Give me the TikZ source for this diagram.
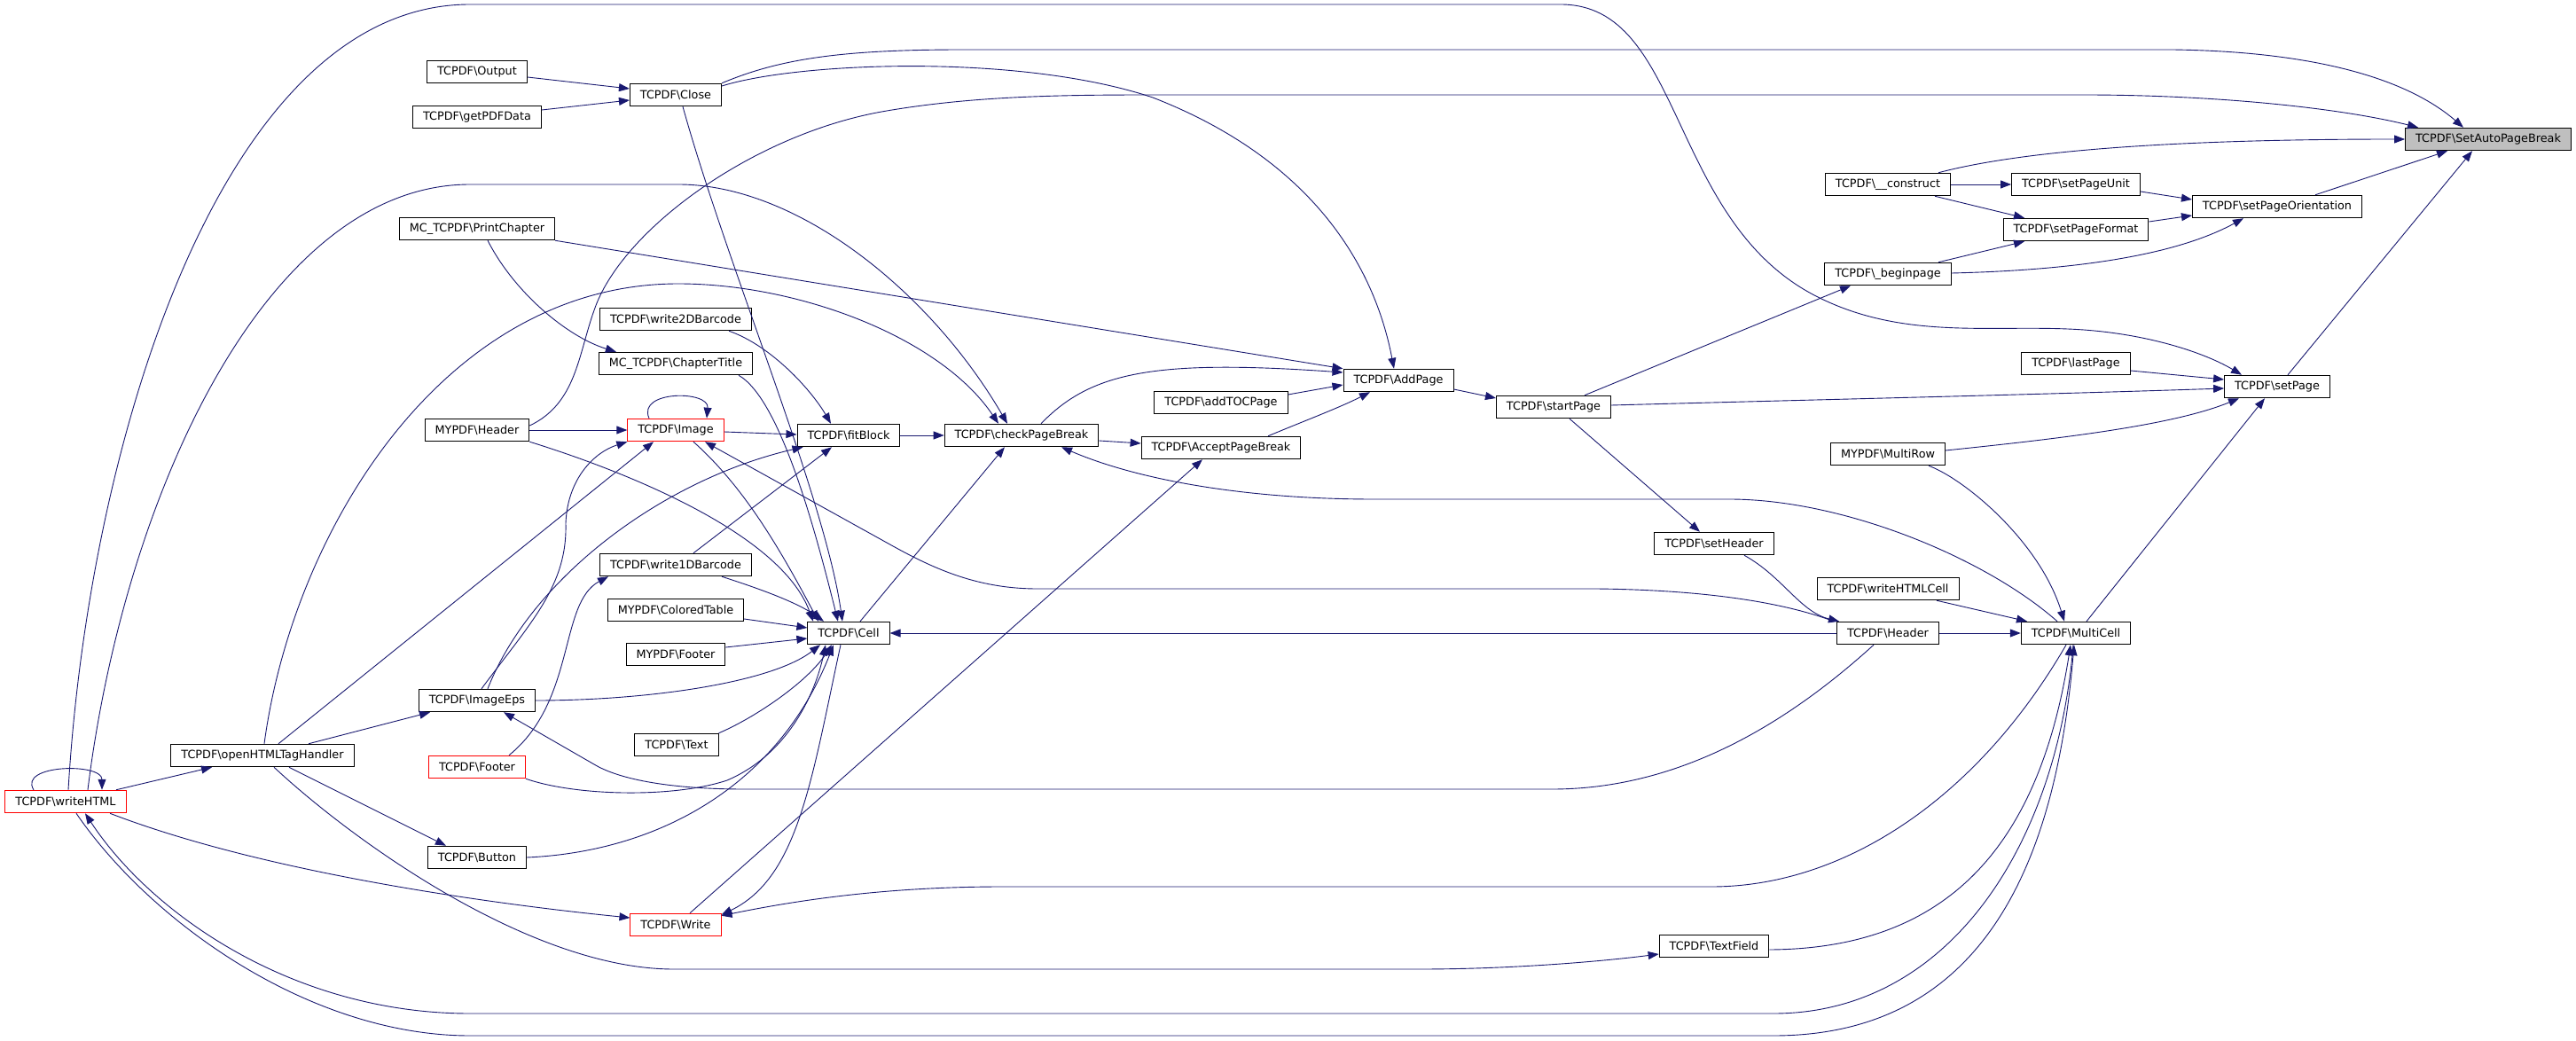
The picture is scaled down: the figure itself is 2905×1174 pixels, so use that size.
\documentclass[tikz,border=0pt]{standalone}
\usepackage{fontspec}
\setmainfont{DejaVu Sans}
\usetikzlibrary{arrows.meta}
\definecolor{edgec}{HTML}{191970}
\definecolor{rootfill}{HTML}{BFBFBF}
\newcommand{\bsl}{\textbackslash}
\begin{document}
\begin{tikzpicture}[x=1pt,y=-1pt,
  nd/.style={draw=black, fill=white, line width=1pt, inner xsep=11.5pt, inner ysep=0pt,
    minimum height=25.5pt, font=\fontsize{12.8}{15}\selectfont},
  rd/.style={nd, draw=red},
  root/.style={nd, fill=rootfill},
  e/.style={draw=edgec, line width=0.9pt, -{Triangle[length=12pt,width=9pt]}, fill=none}]
\useasboundingbox (0,0) rectangle (2905,1174);
\fill[white] (0,0) rectangle (2905,1174);
% nodes
\node[root] (sapb) at (2806,157) {TCPDF\bsl SetAutoPageBreak};
\node[nd] (output) at (538,81) {TCPDF\bsl Output};
\node[nd] (getpdf) at (538,132) {TCPDF\bsl getPDFData};
\node[nd] (close) at (762,107) {TCPDF\bsl Close};
\node[nd] (printch) at (538,258) {MC\_TCPDF\bsl PrintChapter};
\node[nd] (w2d) at (762,360) {TCPDF\bsl write2DBarcode};
\node[nd] (chtitle) at (762,410) {MC\_TCPDF\bsl ChapterTitle};
\node[nd] (mhdr) at (538,485) {MYPDF\bsl Header};
\node[rd] (image) at (762,485) {TCPDF\bsl Image};
\node[nd] (fitblock) at (957,491) {TCPDF\bsl fitBlock};
\node[nd] (cpb) at (1152,491) {TCPDF\bsl checkPageBreak};
\node[nd] (accept) at (1377,505) {TCPDF\bsl AcceptPageBreak};
\node[nd] (addtoc) at (1377,454) {TCPDF\bsl addTOCPage};
\node[nd] (addpage) at (1577,429) {TCPDF\bsl AddPage};
\node[nd] (startpage) at (1752,459) {TCPDF\bsl startPage};
\node[nd] (w1d) at (762,637) {TCPDF\bsl write1DBarcode};
\node[nd] (coltab) at (762,688) {MYPDF\bsl ColoredTable};
\node[nd] (mfooter) at (762,738) {MYPDF\bsl Footer};
\node[nd] (cell) at (957,714) {TCPDF\bsl Cell};
\node[nd] (imageeps) at (538,790) {TCPDF\bsl ImageEps};
\node[nd] (text) at (763,840) {TCPDF\bsl Text};
\node[rd] (footer) at (538,865) {TCPDF\bsl Footer};
\node[nd] (ohth) at (296,852) {TCPDF\bsl openHTMLTagHandler};
\node[rd] (whtml) at (74,904) {TCPDF\bsl writeHTML};
\node[nd] (button) at (538,967) {TCPDF\bsl Button};
\node[rd] (write) at (762,1043) {TCPDF\bsl Write};
\node[nd] (textfield) at (1933,1067) {TCPDF\bsl TextField};
\node[nd] (setheader) at (1933,613) {TCPDF\bsl setHeader};
\node[nd] (header) at (2129,714) {TCPDF\bsl Header};
\node[nd] (whcell) at (2129,664) {TCPDF\bsl writeHTMLCell};
\node[nd] (multirow) at (2129,512) {MYPDF\bsl MultiRow};
\node[nd] (multicell) at (2341,714) {TCPDF\bsl MultiCell};
\node[nd] (construct) at (2129,208) {TCPDF\bsl \_\_construct};
\node[nd] (beginpage) at (2129,309) {TCPDF\bsl \_beginpage};
\node[nd] (spu) at (2341,208) {TCPDF\bsl setPageUnit};
\node[nd] (spf) at (2341,259) {TCPDF\bsl setPageFormat};
\node[nd] (lastpage) at (2341,410) {TCPDF\bsl lastPage};
\node[nd] (setpage) at (2568,436) {TCPDF\bsl setPage};
\node[nd] (spo) at (2568,233) {TCPDF\bsl setPageOrientation};
% edges
\draw[e] ([yshift=-6pt]output.east) -- ([yshift=7pt]close.west);
\draw[e] ([yshift=8pt]getpdf.east) -- ([yshift=-6pt]close.west);
\draw[e] (close.north east) .. controls (880,66) and (950,56) .. (1086,56) -- (2450,56) .. controls (2600,58) and (2710,85) .. ([xshift=-28pt]sapb.north);
\draw[e] ([yshift=10pt]close.east) .. controls (900,70) and (1150,60) .. (1300,110) .. controls (1480,180) and (1550,300) .. ([xshift=-5pt]addpage.north);
\draw[e] ([xshift=8pt]close.south) .. controls (820,300) and (930,560) .. ([xshift=-7pt]cell.north);
\draw[e] ([yshift=5pt]mhdr.east) .. controls (650,455) and (652,400) .. (670,350) .. controls (700,260) and (850,150) .. (1000,125) .. controls (1100,108) and (1200,107) .. (1300,107) -- (2350,107) .. controls (2500,107) and (2640,122) .. ([xshift=-79pt]sapb.north);
\draw[e] (mhdr.east) -- (image.west);
\draw[e] (mhdr.south east) .. controls (700,530) and (880,600) .. ([xshift=-40pt]cell.north);
\draw[e] (printch.south east) -- (addpage.north west);
\draw[e] ([xshift=12pt]printch.south) .. controls (580,330) and (640,380) .. ([xshift=20pt]chtitle.north west);
\draw[e] ([xshift=71pt]chtitle.south) .. controls (880,450) and (920,600) .. ([xshift=-12pt]cell.north);
\draw[e] ([xshift=60pt]w2d.south) .. controls (870,390) and (915,440) .. ([xshift=-20pt]fitblock.north);
\draw[e] ([xshift=-30pt]image.north) .. controls (718,440) and (800,440) .. ([xshift=35pt]image.north);
\draw[e] ([yshift=-2pt]image.east) -- ([yshift=1pt]fitblock.west);
\draw[e] ([xshift=20pt]image.south) .. controls (840,550) and (880,620) .. ([xshift=-34pt]cell.north);
\draw[e] ([xshift=20pt]w1d.north) -- ([xshift=-19pt]fitblock.south);
\draw[e] ([xshift=52pt]w1d.south) .. controls (860,665) and (900,680) .. ([xshift=-28pt]cell.north);
\draw[e] ([yshift=-10pt]coltab.east) -- ([yshift=6pt]cell.west);
\draw[e] ([yshift=8pt]mfooter.east) -- ([yshift=-6pt]cell.west);
\draw[e] ([xshift=5pt]imageeps.north) .. controls (600,700) and (640,660) .. (638,590) .. controls (640,540) and (670,510) .. (image.south west);
\draw[e] ([xshift=12pt]imageeps.north) .. controls (600,650) and (750,540) .. ([xshift=7pt]fitblock.south west);
\draw[e] (imageeps.east) .. controls (730,790) and (870,770) .. ([xshift=-32pt]cell.south);
\draw[e] (text.north east) .. controls (850,810) and (910,770) .. ([xshift=-19pt]cell.south);
\draw[e] ([xshift=36pt]footer.north) .. controls (650,790) and (630,680) .. ([xshift=10pt]w1d.south west);
\draw[e] (footer.south east) .. controls (650,898) and (760,900) .. (820,880) .. controls (890,850) and (920,780) .. ([xshift=-26pt]cell.south);
\draw[e] (button.east) .. controls (750,960) and (880,880) .. ([xshift=-17pt]cell.south);
\draw[e] ([xshift=-9pt]cell.south) .. controls (915,880) and (900,990) .. ([yshift=-2pt]write.north east);
\draw[e] ([xshift=16pt]write.north) -- ([xshift=-21pt]accept.south);
\draw[e] ([xshift=13pt]cell.north) -- ([xshift=-19pt]cpb.south);
\draw[e] (fitblock.east) -- (cpb.west);
\draw[e] ([xshift=22pt]cpb.north) .. controls (1230,420) and (1300,405) .. ([yshift=9pt]addpage.west);
\draw[e] ([yshift=-6pt]cpb.east) -- ([yshift=5pt]accept.west);
\draw[e] ([yshift=9pt]addtoc.east) -- ([yshift=-5pt]addpage.west);
\draw[e] ([xshift=53pt]accept.north) .. controls (1470,475) and (1510,460) .. ([xshift=-32pt]addpage.south);
\draw[e] ([yshift=-10pt]addpage.east) -- ([yshift=10pt]startpage.west);
\draw[e] ([xshift=35pt]startpage.north) -- ([xshift=-42pt]beginpage.south);
\draw[e] ([yshift=2pt]startpage.east) .. controls (2000,452) and (2300,445) .. ([yshift=-2pt]setpage.west);
\draw[e] ([xshift=18pt]startpage.south) -- ([xshift=-16pt]setheader.north);
\draw[e] ([xshift=34pt]setheader.south) .. controls (2010,650) and (2030,690) .. ([xshift=-55pt]header.north);
\draw[e] (header.east) -- (multicell.west);
\draw[e] (header.west) -- (cell.east);
\draw[e] ([xshift=-61pt]header.north) .. controls (2000,675) and (1900,665) .. (1800,664) -- (1170,664) .. controls (1100,664) and (1050,640) .. (1000,612) -- ([xshift=33pt]image.south);
\draw[e] ([xshift=-16pt]header.south) .. controls (2000,830) and (1880,890) .. (1750,890) -- (840,890) .. controls (760,890) and (700,880) .. (670,862) -- ([xshift=30pt]imageeps.south);
\draw[e] ([xshift=55pt]whcell.south) -- ([xshift=-55pt]multicell.north);
\draw[e] ([xshift=46pt]multirow.south) .. controls (2215,540) and (2300,610) .. ([xshift=-13pt]multicell.north);
\draw[e] ([yshift=4pt]multirow.east) .. controls (2320,495) and (2450,480) .. ([xshift=-43pt]setpage.south);
\draw[e] ([xshift=12pt]multicell.north) -- ([xshift=-14pt]setpage.south);
\draw[e] ([xshift=-21pt]multicell.north) .. controls (2240,630) and (2080,563) .. (1950,563) -- (1550,563) .. controls (1400,563) and (1280,540) .. ([xshift=45pt]cpb.south);
\draw[e] ([xshift=-11pt]multicell.south) .. controls (2230,900) and (2080,1000) .. (1930,1000) -- (1130,1000) .. controls (1000,1000) and (900,1015) .. ([yshift=-3pt]write.north east);
\draw[e] ([xshift=-3pt]multicell.south) .. controls (2320,950) and (2200,1143) .. (2000,1143) -- (530,1143) .. controls (330,1143) and (170,1030) .. ([xshift=22pt]whtml.south);
\draw[e] ([xshift=12pt]whtml.south) .. controls (170,1040) and (350,1168) .. (530,1168) -- (2000,1168) .. controls (2250,1168) and (2320,950) .. ([xshift=-2pt]multicell.south);
\draw[e] ([yshift=-4pt]textfield.east) .. controls (2200,1070) and (2300,950) .. ([xshift=-6pt]multicell.south);
\draw[e] ([xshift=13pt]ohth.south) .. controls (400,950) and (600,1093) .. (760,1093) -- (1600,1093) .. controls (1700,1093) and (1800,1085) .. ([yshift=-9pt]textfield.west);
\draw[e] ([xshift=-36pt]whtml.north) .. controls (20,862) and (115,860) .. ([xshift=41pt]whtml.north);
\draw[e] ([xshift=57pt]whtml.north) -- ([xshift=-57pt]ohth.south);
\draw[e] ([xshift=50pt]whtml.south) .. controls (300,985) and (560,1020) .. ([yshift=8pt]write.west);
\draw[e] ([xshift=3pt]whtml.north) .. controls (100,500) and (250,5) .. (530,5) -- (1760,5) .. controls (1900,5) and (1880,250) .. (2050,335) .. controls (2150,385) and (2250,365) .. (2350,372) .. controls (2430,378) and (2490,400) .. ([xshift=-40pt]setpage.north);
\draw[e] ([xshift=25pt]whtml.north) .. controls (140,560) and (300,208) .. (530,208) -- (765,208) .. controls (900,208) and (1050,330) .. ([xshift=-16pt]cpb.north);
\draw[e] ([xshift=52pt]ohth.north) -- ([xshift=-53pt]imageeps.south);
\draw[e] ([xshift=18pt]ohth.north) -- ([xshift=-25pt]image.south);
\draw[e] ([xshift=2pt]ohth.north) .. controls (330,600) and (500,320) .. (765,320) .. controls (900,320) and (1060,380) .. ([xshift=-26pt]cpb.north);
\draw[e] ([xshift=30pt]ohth.south) -- ([xshift=-35pt]button.north);
\draw[e] ([yshift=-8pt]lastpage.east) -- ([yshift=8pt]setpage.west);
\draw[e] ([xshift=12pt]setpage.north) -- ([xshift=-18pt]sapb.south);
\draw[e] ([xshift=57pt]construct.north) .. controls (2280,170) and (2450,157) .. (sapb.west);
\draw[e] (construct.east) -- (spu.west);
\draw[e] ([xshift=53pt]construct.south) -- ([xshift=-58pt]spf.north);
\draw[e] ([yshift=-8pt]spu.east) -- ([yshift=8pt]spo.west);
\draw[e] ([yshift=9pt]spf.east) -- ([yshift=-10pt]spo.west);
\draw[e] ([xshift=57pt]beginpage.north) -- ([xshift=-58pt]spf.south);
\draw[e] ([yshift=1pt]beginpage.east) .. controls (2330,305) and (2450,290) .. ([xshift=-38pt]spo.south);
\draw[e] ([xshift=43pt]spo.north) -- ([xshift=-46pt]sapb.south);
\end{tikzpicture}
\end{document}
